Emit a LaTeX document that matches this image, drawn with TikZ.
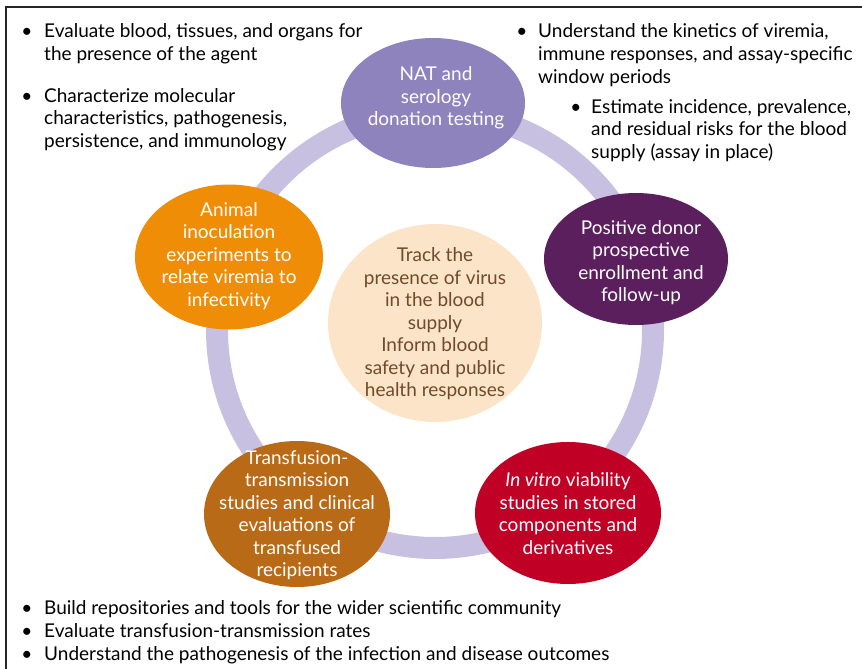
\documentclass[tikz,border=0pt]{standalone}
\usepackage{fontspec}
\setmainfont{Lato}
\usetikzlibrary{shapes.geometric}
\definecolor{ringcol}{HTML}{C7C0E1}
\definecolor{natcol}{HTML}{8E83BD}
\definecolor{poscol}{HTML}{5B1F5E}
\definecolor{animcol}{HTML}{EF8D06}
\definecolor{vitrocol}{HTML}{C10026}
\definecolor{transcol}{HTML}{B86A16}
\definecolor{centcol}{HTML}{FCE4C9}
\definecolor{centtext}{HTML}{6E4B2A}
\tikzset{
  blob/.style={ellipse, inner sep=0pt, draw=none},
  blobtext/.style={align=center, text=white, font=\fontsize{19}{22.5}\selectfont, inner sep=0pt},
  itemtext/.style={anchor=base west, inner sep=0pt, font=\fontsize{19}{22.6}\selectfont},
  bulletmark/.style={anchor=base, inner sep=0pt, font=\fontsize{19}{22.6}\selectfont}
}
\begin{document}
\begin{tikzpicture}[x=1pt,y=-1pt]
\useasboundingbox (0,0) rectangle (862,669);
% frame
\coordinate (fl) at (6,669);
\coordinate (fc) at (6,7);
\coordinate (fr) at (862,7);
\draw[line width=2pt, black!85] (fl) -- (fc) -- (fr);
% ring
\coordinate (rc) at (435,330);
\draw[ringcol, line width=22pt] (rc) circle[radius=218];
% blobs
\node[blob, fill=centcol, minimum width=214pt, minimum height=198pt] (cent) at (435,323) {};
\node[blob, fill=natcol, minimum width=184pt, minimum height=130pt] (nat) at (433,103) {};
\node[blob, fill=poscol, minimum width=184pt, minimum height=132pt] (pos) at (636,259) {};
\node[blob, fill=animcol, minimum width=188pt, minimum height=145pt] (anim) at (229,257) {};
\node[blob, fill=vitrocol, minimum width=186pt, minimum height=142pt] (vitro) at (568,513) {};
\node[blob, fill=transcol, minimum width=186pt, minimum height=146pt] (trans) at (297,514) {};
% blob texts
\node[blobtext] (natt) at (436,98) {NAT and\\serology\\donation testing};
\node[blobtext] (post) at (641,262.5) {Positive donor\\prospective\\enrollment and\\follow-up};
\node[blobtext] (animt) at (229,256) {Animal\\inoculation\\experiments to\\relate viremia to\\infectivity};
\node[blobtext] (vitrot) at (568,513.5) {\textit{In vitro} viability\\studies in stored\\components and\\derivatives};
\node[blobtext] (transt) at (297,515) {Transfusion-\\transmission\\studies and clinical\\evaluations of\\transfused\\recipients};
\node[blobtext, text=centtext] (centt) at (435,324) {Track the\\presence of virus\\in the blood\\supply\\Inform blood\\safety and public\\health responses};
% top-left bullets
\node[bulletmark] (b1) at (27,38) {•};
\node[itemtext] (t1) at (44,38) {\vtop{\hbox{Evaluate blood, tissues, and organs for}\hbox{the presence of the agent}}};
\node[bulletmark] (b2) at (27,102) {•};
\node[itemtext] (t2) at (44,102) {\vtop{\hbox{Characterize molecular}\hbox{characteristics, pathogenesis,}\hbox{persistence, and immunology}}};
% top-right bullets
\node[bulletmark] (b3) at (522,38) {•};
\node[itemtext] (t3) at (538,38) {\vtop{\hbox{Understand the kinetics of viremia,}\hbox{immune responses, and assay-specific}\hbox{window periods}}};
\node[bulletmark] (b4) at (576,113) {•};
\node[itemtext] (t4) at (591,113) {\vtop{\hbox{Estimate incidence, prevalence,}\hbox{and residual risks for the blood}\hbox{supply (assay in place)}}};
% bottom bullets
\node[bulletmark] (b5) at (27,614) {•};
\node[itemtext] (t5) at (44,614) {Build repositories and tools for the wider scientific community};
\node[bulletmark] (b6) at (27,637) {•};
\node[itemtext] (t6) at (44,637) {Evaluate transfusion-transmission rates};
\node[bulletmark] (b7) at (27,660) {•};
\node[itemtext] (t7) at (44,660) {Understand the pathogenesis of the infection and disease outcomes};
\end{tikzpicture}
\end{document}
